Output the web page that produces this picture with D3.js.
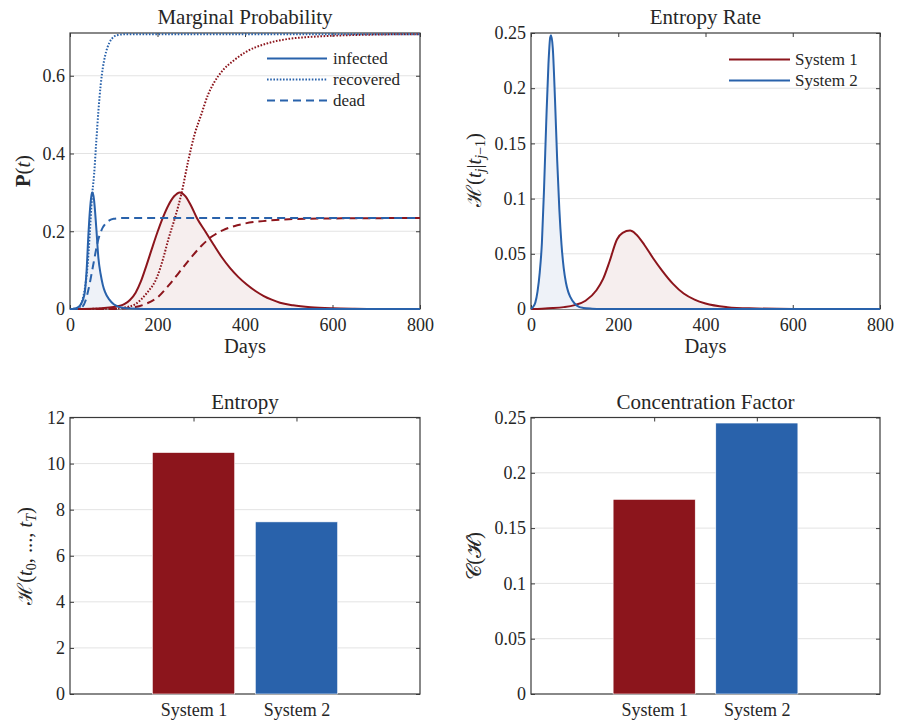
<!DOCTYPE html>
<html><head><meta charset="utf-8">
<script src="https://cdn.jsdelivr.net/npm/d3@7"></script>
<style>
body{margin:0;background:#fff}
</style></head>
<body><svg id="c" width="905" height="722"></svg>
<script>
// ---------------- data ----------------
const systems = ["System 1", "System 2"];
// System 2 (blue) marginal probabilities
const inf2Days = [0,10,20,25,30,34,38,42,46,50,52,55,60,65,70,75,80,90,100,110,120,140,170,200,800];
const inf2     = [0,0.001,0.006,0.013,0.025,0.045,0.1,0.19,0.26,0.298,0.30,0.28,0.21,0.13,0.09,0.062,0.044,0.024,0.012,0.006,0.003,0.001,0.0002,0,0];
const rec2Days = [0,20,25,30,35,40,45,50,55,60,65,70,75,80,90,100,110,130,800];
const rec2     = [0,0.003,0.01,0.03,0.06,0.11,0.19,0.285,0.345,0.43,0.51,0.575,0.62,0.65,0.685,0.70,0.705,0.707,0.707];
const dead2Days = [0,20,30,35,40,45,50,55,60,65,70,75,80,90,100,120,800];
const dead2     = [0,0.001,0.008,0.02,0.04,0.065,0.095,0.125,0.155,0.18,0.197,0.21,0.218,0.228,0.232,0.234,0.234];
// System 1 (red) marginal probabilities
const inf1Days = [0,50,100,125,137,150,162,175,188,200,213,225,238,251,264,277,290,309,328,347,366,385,404,423,442,461,480,510,550,600,650,700,800];
const inf1     = [0,0.0008,0.005,0.013,0.023,0.042,0.071,0.113,0.158,0.198,0.237,0.267,0.29,0.30,0.29,0.265,0.234,0.2,0.166,0.133,0.105,0.082,0.063,0.047,0.034,0.024,0.016,0.0095,0.0045,0.0017,0.0006,0.0002,0];
const rec1Days = [0,100,125,150,175,200,213,225,240,255,270,285,300,315,328,350,375,400,450,500,550,600,700,800];
const rec1     = [0,0.001,0.004,0.013,0.04,0.085,0.13,0.18,0.235,0.298,0.38,0.45,0.5,0.55,0.58,0.615,0.64,0.66,0.683,0.695,0.70,0.703,0.706,0.707];
const dead1Days = [0,100,150,175,200,225,250,275,300,325,350,375,400,450,500,600,800];
const dead1     = [0,0.0003,0.005,0.014,0.03,0.06,0.095,0.13,0.162,0.187,0.203,0.213,0.22,0.227,0.231,0.233,0.234];
// Entropy rate
const h2Days = [0,5,10,15,20,25,30,35,40,44,46,50,55,60,65,70,75,80,85,90,100,110,120,140,160,800];
const h2     = [0,0.002,0.006,0.016,0.033,0.06,0.11,0.17,0.222,0.246,0.248,0.236,0.19,0.135,0.09,0.058,0.037,0.024,0.016,0.011,0.005,0.002,0.001,0.0003,0,0];
const h1Days = [0,25,50,75,100,125,150,165,180,197,210,227,240,260,280,300,325,350,375,400,450,500,600,800];
const h1     = [0,0.0003,0.0008,0.0017,0.0035,0.0075,0.017,0.027,0.043,0.063,0.069,0.071,0.068,0.058,0.046,0.035,0.023,0.014,0.0085,0.005,0.0017,0.0006,0.0001,0];
// Bars
const entropy = [10.48, 7.47];
const concentration = [0.176, 0.245];
// Ticks
const dayTicks = [0,200,400,600,800];
const probTicks = [0,0.2,0.4,0.6];
const rateTicks = [0,0.05,0.1,0.15,0.2,0.25];
const entTicks = [0,2,4,6,8,10,12];
const concTicks = [0,0.05,0.1,0.15,0.2,0.25];

// ---------------- style ----------------
const RED = "#8c151c", BLUE = "#2962ab";
const RED_FILL = "#f6eeee", BLUE_FILL = "#eef2f8";
const AX = "#3a3a3a", GRID = "#e3e3e3";
const FONT = '"Liberation Serif", serif';
const TICK_FS = 18, LAB_FS = 20.5, TITLE_FS = 21, LEG_FS = 17;

const svg = d3.select("#c");

function panel(box, x, y, xTicks, yTicks, xFmt, opts={}) {
  const g = svg.append("g");
  g.append("g").selectAll("line").data(yTicks.filter(v => v > y.domain()[0] && v < y.domain()[1]))
    .join("line").attr("x1", box.x0).attr("x2", box.x1)
    .attr("y1", d => y(d)).attr("y2", d => y(d))
    .attr("stroke", GRID).attr("stroke-width", 1);
  g.append("rect").attr("x", box.x0).attr("y", box.y0)
    .attr("width", box.x1 - box.x0).attr("height", box.y1 - box.y0)
    .attr("fill", "none").attr("stroke", AX).attr("stroke-width", 1.2);
  const style = sel => {
    sel.select(".domain").remove();
    sel.selectAll("line").attr("stroke", AX);
    sel.selectAll("text").style("font-size", TICK_FS + "px");
  };
  g.append("g").attr("transform", `translate(0,${box.y1})`)
    .call(d3.axisBottom(x).tickValues(xTicks).tickFormat(xFmt).tickSize(-4).tickPadding(9)).call(style);
  g.append("g").attr("transform", `translate(0,${box.y0})`)
    .call(d3.axisTop(x).tickValues(xTicks).tickFormat("").tickSize(-4)).call(style);
  g.append("g").attr("transform", `translate(${box.x0},0)`)
    .call(d3.axisLeft(y).tickValues(yTicks).tickFormat(d => String(d)).tickSize(-4).tickPadding(5)).call(style);
  g.append("g").attr("transform", `translate(${box.x1},0)`)
    .call(d3.axisRight(y).tickValues(yTicks).tickFormat("").tickSize(-4)).call(style);
  svg.append("text").attr("x", (box.x0 + box.x1) / 2).attr("y", box.y0 - 9)
    .attr("text-anchor", "middle").style("font-size", TITLE_FS + "px").text(opts.title);
  return g;
}

function yLabel(cx, cy, parts) {
  const t = svg.append("text").attr("transform", `translate(${cx},${cy}) rotate(-90)`)
    .attr("text-anchor", "middle").style("font-size", LAB_FS + "px");
  parts.forEach(p => {
    const s = t.append("tspan").text(p.t);
    if (p.it) s.style("font-style", "italic");
    if (p.b) s.style("font-weight", "bold");
    if (p.fs) s.style("font-size", p.fs + "px");
    if (p.dy) s.attr("dy", p.dy);
    if (p.ff) s.style("font-family", p.ff);
  });
  return t;
}
function xLabel(box, text) {
  svg.append("text").attr("x", (box.x0 + box.x1) / 2).attr("y", box.y1 + 44)
    .attr("text-anchor", "middle").style("font-size", LAB_FS + "px").text(text);
}

// ---------------- Panel 1: Marginal Probability ----------------
const b1 = {x0: 70, x1: 420, y0: 33, y1: 309};
const x1s = d3.scaleLinear().domain([0, 800]).range([b1.x0, b1.x1]);
const y1s = d3.scaleLinear().domain([0, 0.71]).range([b1.y1, b1.y0]);
const g1 = panel(b1, x1s, y1s, dayTicks, probTicks, d => String(d), {title: "Marginal Probability"});
const zipS = (ds, vs) => ds.map((d, i) => [d, vs[i]]);
const line1 = d3.line().x(d => x1s(d[0])).y(d => y1s(d[1])).curve(d3.curveMonotoneX);
const area1 = d3.area().x(d => x1s(d[0])).y0(y1s(0)).y1(d => y1s(d[1])).curve(d3.curveMonotoneX);
g1.append("path").attr("d", area1(zipS(inf1Days, inf1))).attr("fill", RED_FILL);
g1.append("path").attr("d", area1(zipS(inf2Days, inf2))).attr("fill", BLUE_FILL);
const series1 = [
  [inf1Days, inf1, RED, null], [rec1Days, rec1, RED, "1.6,1.6"], [dead1Days, dead1, RED, "8,5"],
  [inf2Days, inf2, BLUE, null], [rec2Days, rec2, BLUE, "1.6,1.6"], [dead2Days, dead2, BLUE, "8,5"]
];
series1.forEach(([ds, vs, c, da]) => {
  g1.append("path").attr("d", line1(zipS(ds, vs))).attr("fill", "none")
    .attr("stroke", c).attr("stroke-width", 2).attr("stroke-dasharray", da);
});
[["infected", null], ["recovered", "1.6,1.6"], ["dead", "8,5"]].forEach(([lab, da], i) => {
  const yy = 58.5 + i * 21;
  g1.append("line").attr("x1", 267).attr("x2", 327).attr("y1", yy).attr("y2", yy)
    .attr("stroke", BLUE).attr("stroke-width", 2).attr("stroke-dasharray", da);
  g1.append("text").attr("x", 333).attr("y", yy).attr("dy", "0.32em").style("font-size", LEG_FS + "px").text(lab);
});
yLabel(30, 171, [{t: "P", b: true}, {t: "("}, {t: "t", it: true}, {t: ")"}]);
xLabel(b1, "Days");

// ---------------- Panel 2: Entropy Rate ----------------
const b2 = {x0: 531, x1: 880, y0: 33, y1: 309};
const x2s = d3.scaleLinear().domain([0, 800]).range([b2.x0, b2.x1]);
const y2s = d3.scaleLinear().domain([0, 0.25]).range([b2.y1, b2.y0]);
const g2 = panel(b2, x2s, y2s, dayTicks, rateTicks, d => String(d), {title: "Entropy Rate"});
const line2 = d3.line().x(d => x2s(d[0])).y(d => y2s(d[1])).curve(d3.curveMonotoneX);
const area2 = d3.area().x(d => x2s(d[0])).y0(y2s(0)).y1(d => y2s(d[1])).curve(d3.curveMonotoneX);
g2.append("path").attr("d", area2(zipS(h1Days, h1))).attr("fill", RED_FILL);
g2.append("path").attr("d", area2(zipS(h2Days, h2))).attr("fill", BLUE_FILL);
g2.append("path").attr("d", line2(zipS(h1Days, h1))).attr("fill", "none").attr("stroke", RED).attr("stroke-width", 2);
g2.append("path").attr("d", line2(zipS(h2Days, h2))).attr("fill", "none").attr("stroke", BLUE).attr("stroke-width", 2);
[[systems[0], RED], [systems[1], BLUE]].forEach(([lab, c], i) => {
  const yy = 59.5 + i * 21;
  g2.append("line").attr("x1", 729).attr("x2", 790).attr("y1", yy).attr("y2", yy)
    .attr("stroke", c).attr("stroke-width", 2);
  g2.append("text").attr("x", 795).attr("y", yy).attr("dy", "0.32em").style("font-size", LEG_FS + "px").text(lab);
});
yLabel(481, 170, [{t: "ℋ"}, {t: "("}, {t: "t", it: true},
  {t: "j", it: true, fs: 14, dy: 4}, {t: "|", dy: -4}, {t: "t", it: true},
  {t: "j", it: true, fs: 14, dy: 4}, {t: "−1", fs: 14}, {t: ")", dy: -4}]);
xLabel(b2, "Days");

// ---------------- Panel 3: Entropy bars ----------------
const b3 = {x0: 70, x1: 420, y0: 417.5, y1: 694};
const x3s = d3.scaleLinear().domain([-0.2, 3.2]).range([b3.x0, b3.x1]);
const y3s = d3.scaleLinear().domain([0, 12]).range([b3.y1, b3.y0]);
const g3 = panel(b3, x3s, y3s, [1, 2], entTicks, d => systems[d - 1], {title: "Entropy"});
g3.append("g").selectAll("rect").data(entropy).join("rect")
  .attr("x", (d, i) => x3s(i + 1 - 0.4)).attr("width", x3s(0.8) - x3s(0))
  .attr("y", d => y3s(d)).attr("height", d => y3s(0) - y3s(d))
  .attr("fill", (d, i) => i ? BLUE : RED).attr("stroke", "#fff").attr("stroke-width", 0.6);
yLabel(32, 556, [{t: "ℋ"}, {t: "("}, {t: "t", it: true}, {t: "0", fs: 14, dy: 4},
  {t: ", ..., ", dy: -4}, {t: "t", it: true}, {t: "T", it: true, fs: 14, dy: 4}, {t: ")", dy: -4}]);

// ---------------- Panel 4: Concentration factor ----------------
const b4 = {x0: 531, x1: 880, y0: 417.5, y1: 694};
const x4s = d3.scaleLinear().domain([-0.2, 3.2]).range([b4.x0, b4.x1]);
const y4s = d3.scaleLinear().domain([0, 0.25]).range([b4.y1, b4.y0]);
const g4 = panel(b4, x4s, y4s, [1, 2], concTicks, d => systems[d - 1], {title: "Concentration Factor"});
g4.append("g").selectAll("rect").data(concentration).join("rect")
  .attr("x", (d, i) => x4s(i + 1 - 0.4)).attr("width", x4s(0.8) - x4s(0))
  .attr("y", d => y4s(d)).attr("height", d => y4s(0) - y4s(d))
  .attr("fill", (d, i) => i ? BLUE : RED).attr("stroke", "#fff").attr("stroke-width", 0.6);
yLabel(481, 556, [{t: "𝒞"}, {t: "("}, {t: "ℋ"}, {t: ")"}]);

// font for every text
svg.selectAll("text").style("font-family", FONT).style("fill", "#262626");
</script>
</body></html>
